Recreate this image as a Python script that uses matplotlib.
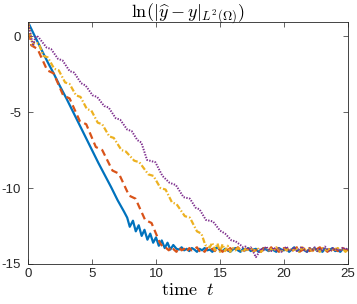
import numpy as np
import matplotlib
matplotlib.use('Agg')
import matplotlib.pyplot as plt

plt.rcParams['font.family'] = ['Liberation Sans', 'DejaVu Sans']
plt.rcParams['mathtext.fontset'] = 'cm'
plt.rcParams['axes.unicode_minus'] = False
plt.rcParams['lines.scale_dashes'] = False

# ---- data ----
# blue, solid: straight decay then damped wiggle
t_blue = [0, 0.5, 1.0, 1.5, 2.0, 2.5, 3.0, 3.5, 4.0, 4.5, 5.0, 5.5, 6.0, 6.5, 7.0, 7.5,
          7.75, 7.95, 8.2, 8.42, 8.65, 8.88, 9.1, 9.33, 9.55, 9.78, 10.0, 10.22,
          10.45, 10.68, 10.9, 11.12, 11.35, 11.6]
y_blue = [0.93, 0.05, -0.8, -1.65, -2.45, -3.3, -4.1, -4.95, -5.8, -6.65, -7.5, -8.35,
          -9.15, -9.95, -10.8, -11.55,
          -11.95, -12.55, -12.15, -12.85, -12.45, -13.15, -12.75, -13.4, -13.0, -13.6,
          -13.25, -13.8, -13.45, -13.95, -13.6, -14.05, -13.75, -14.0]
blue_floor = [-14.05, -13.9, -14.1, -14.0, -14.15, -13.95, -14.05, -14.2, -14.0, -14.1,
              -13.95, -14.1, -14.05, -14.2, -14.0, -13.9, -14.1, -14.15, -14.0, -14.1,
              -14.2, -14.05, -13.95, -14.1, -14.2, -14.0, -14.1, -13.95, -14.15, -14.05,
              -14.0, -14.2, -14.1, -13.95, -14.05, -14.15, -14.0, -14.1, -14.2, -13.95,
              -14.05, -14.1, -14.0, -14.2, -14.05, -13.9, -14.1, -14.15, -14.0, -14.1,
              -14.2, -14.0, -14.1, -13.95, -14.15, -14.05, -14.2, -14.0, -14.1, -14.05,
              -13.95, -14.15, -14.1, -14.2, -14.0, -14.1, -14.05]

# orange, dashed: staircase
t_orange = [0, 0.25, 0.75, 1.5, 2.0, 2.75, 3.25, 4.05, 4.55, 5.3, 5.8, 6.6, 7.1, 7.9, 8.4,
            9.15, 9.65, 10.3, 10.55]
y_orange = [0.93, -0.6, -0.85, -2.25, -2.45, -3.9, -4.1, -5.6, -5.8, -7.3, -7.5, -8.85,
            -9.05, -10.5, -10.7, -12.1, -12.3, -13.6, -13.9]
orange_floor = [-13.95, -14.1, -13.85, -14.05, -14.2, -13.9, -14.1, -14.0, -14.2, -13.95,
                -14.1, -14.0, -13.9, -14.15, -14.05, -14.2, -13.95, -14.1, -14.0, -14.15,
                -13.9, -14.05, -14.2, -14.0, -14.1, -13.95, -14.15, -14.05, -13.9, -14.1,
                -14.2, -14.0, -14.05, -13.9, -14.15, -14.1, -14.0, -14.2, -13.95, -14.05,
                -14.1, -13.9, -14.15, -14.0, -14.2, -14.05, -13.95, -14.1, -14.0, -14.15,
                -14.05, -13.9, -14.2, -14.1, -14.0, -13.95, -14.15, -14.05, -14.2, -14.0,
                -13.9, -14.1, -14.05, -14.2, -13.95, -14.1, -14.0, -14.15, -14.05, -13.95,
                -14.1, -14.05]

# yellow, dash-dot: staircase
t_yellow = [0, 0.35, 0.5, 0.85, 1.2, 1.55, 2.05, 2.4, 2.9, 3.25, 3.75, 4.1, 4.6, 4.95,
            5.45, 5.8, 6.35, 6.7, 7.3, 7.65, 8.3, 8.7, 9.4, 9.8, 10.35, 10.75, 11.25,
            11.6, 12.25, 12.65, 13.2, 13.55, 13.85]
y_yellow = [0.93, -0.6, -0.4, -0.5, -1.3, -1.4, -2.15, -2.25, -3.05, -3.15, -3.9, -4.0,
            -4.8, -4.9, -5.7, -5.8, -6.6, -6.7, -7.5, -7.6, -8.2, -8.3, -9.1, -9.2,
            -10.0, -10.1, -10.95, -11.05, -11.85, -11.95, -12.85, -13.0, -13.75]
yellow_floor = [-13.8, -13.9, -13.6, -14.1, -13.65, -14.2, -13.7, -14.15, -13.8, -14.2, -13.95,
                -14.1, -13.95, -14.05, -14.2, -14.0, -14.1, -13.9, -14.15, -14.05, -14.0,
                -14.2, -14.05, -13.95, -14.1, -14.0, -14.15, -13.9, -14.05, -14.2, -14.0,
                -14.1, -13.95, -14.15, -14.05, -14.0, -14.2, -13.9, -14.1, -14.05, -13.95,
                -14.15, -14.0, -14.1, -14.2, -13.95, -14.05, -14.1, -14.0, -14.15, -14.05,
                -13.95, -14.1, -14.0, -14.2, -14.05]

# purple, dotted: slower staircase
t_purple = [0, 0.4, 0.6, 0.8, 1.45, 1.8, 2.35, 2.7, 3.25, 3.6, 4.15, 4.5, 5.05, 5.4,
            5.95, 6.3, 6.85, 7.2, 7.75, 8.1, 8.55, 8.85, 9.3, 9.95, 10.5, 11.05, 11.55,
            12.15, 12.65, 13.1, 13.4, 13.9, 14.45, 15.0, 15.4, 15.9, 16.2, 16.6, 16.8]
y_purple = [0.93, -0.65, 0.0, -0.05, -0.75, -0.85, -1.5, -1.6, -2.3, -2.4, -3.1, -3.25,
            -3.9, -4.0, -4.6, -4.7, -5.4, -5.5, -6.15, -6.25, -6.85, -7.0, -8.15, -8.3,
            -9.2, -9.65, -9.8, -10.6, -10.7, -11.3, -11.4, -12.1, -12.2, -12.8, -13.0,
            -13.45, -13.5, -13.75, -13.9]
purple_floor = [-13.85, -14.05, -13.9, -14.2, -14.55, -14.3, -13.95,
                -14.1, -13.85, -14.05, -14.15, -13.9, -14.1, -13.95, -14.2, -14.0, -13.85,
                -14.1, -14.05, -13.9, -14.15, -14.0, -13.85, -14.1, -14.2, -13.95, -14.05,
                -13.9, -14.15, -14.0, -14.1, -13.85, -14.05, -14.2, -13.95, -14.1, -14.0,
                -14.15, -13.9, -14.05, -13.95]

x_ticks = [0, 5, 10, 15, 20, 25]
y_ticks = [-15, -10, -5, 0]


def series(t_head, y_head, start, floor):
    t_tail = np.round(start + 0.2 * np.arange(len(floor)), 2)
    return np.concatenate([t_head, t_tail]), np.concatenate([y_head, floor])


fig = plt.figure(figsize=(3.57, 3.04), dpi=100)
ax = fig.add_axes([28 / 357, 40 / 304, 320 / 357, 242 / 304])

tb, yb = series(t_blue, y_blue, 11.8, blue_floor)
to, yo = series(t_orange, y_orange, 10.8, orange_floor)
ty, yy = series(t_yellow, y_yellow, 14.0, yellow_floor)
tp, yp = series(t_purple, y_purple, 17.0, purple_floor)

ax.plot(tb, yb, color='#0072BD', lw=1.6, ls='-')
ax.plot(to, yo, color='#D95319', lw=1.6, ls=(0, (5, 3)))
ax.plot(ty, yy, color='#EDB120', lw=1.6, ls=(0, (4, 1.5, 1, 1.5)))
ax.plot(tp, yp, color='#7E2F8E', lw=1.4, ls=(0, (1, 1)))

ax.set_xlim(0, 25)
ax.set_ylim(-15, 0.93)
ax.set_xticks(x_ticks)
ax.set_yticks(y_ticks)
ax.tick_params(direction='in', top=True, right=True, length=3.5, width=0.5,
               colors='#262626', labelsize=9.5)
ax.tick_params(axis='y', pad=5)
ax.tick_params(axis='x', pad=3)
for s in ax.spines.values():
    s.set_color('#262626')
    s.set_linewidth(0.6)

ax.set_title(r'$\ln(|\widehat{y}-y|_{L^2(\Omega)})$', fontsize=13, pad=3)
ax.set_xlabel(r'$\mathrm{time}\ \ t$', fontsize=13, labelpad=1.5)

fig.savefig('out.png', dpi=100)
